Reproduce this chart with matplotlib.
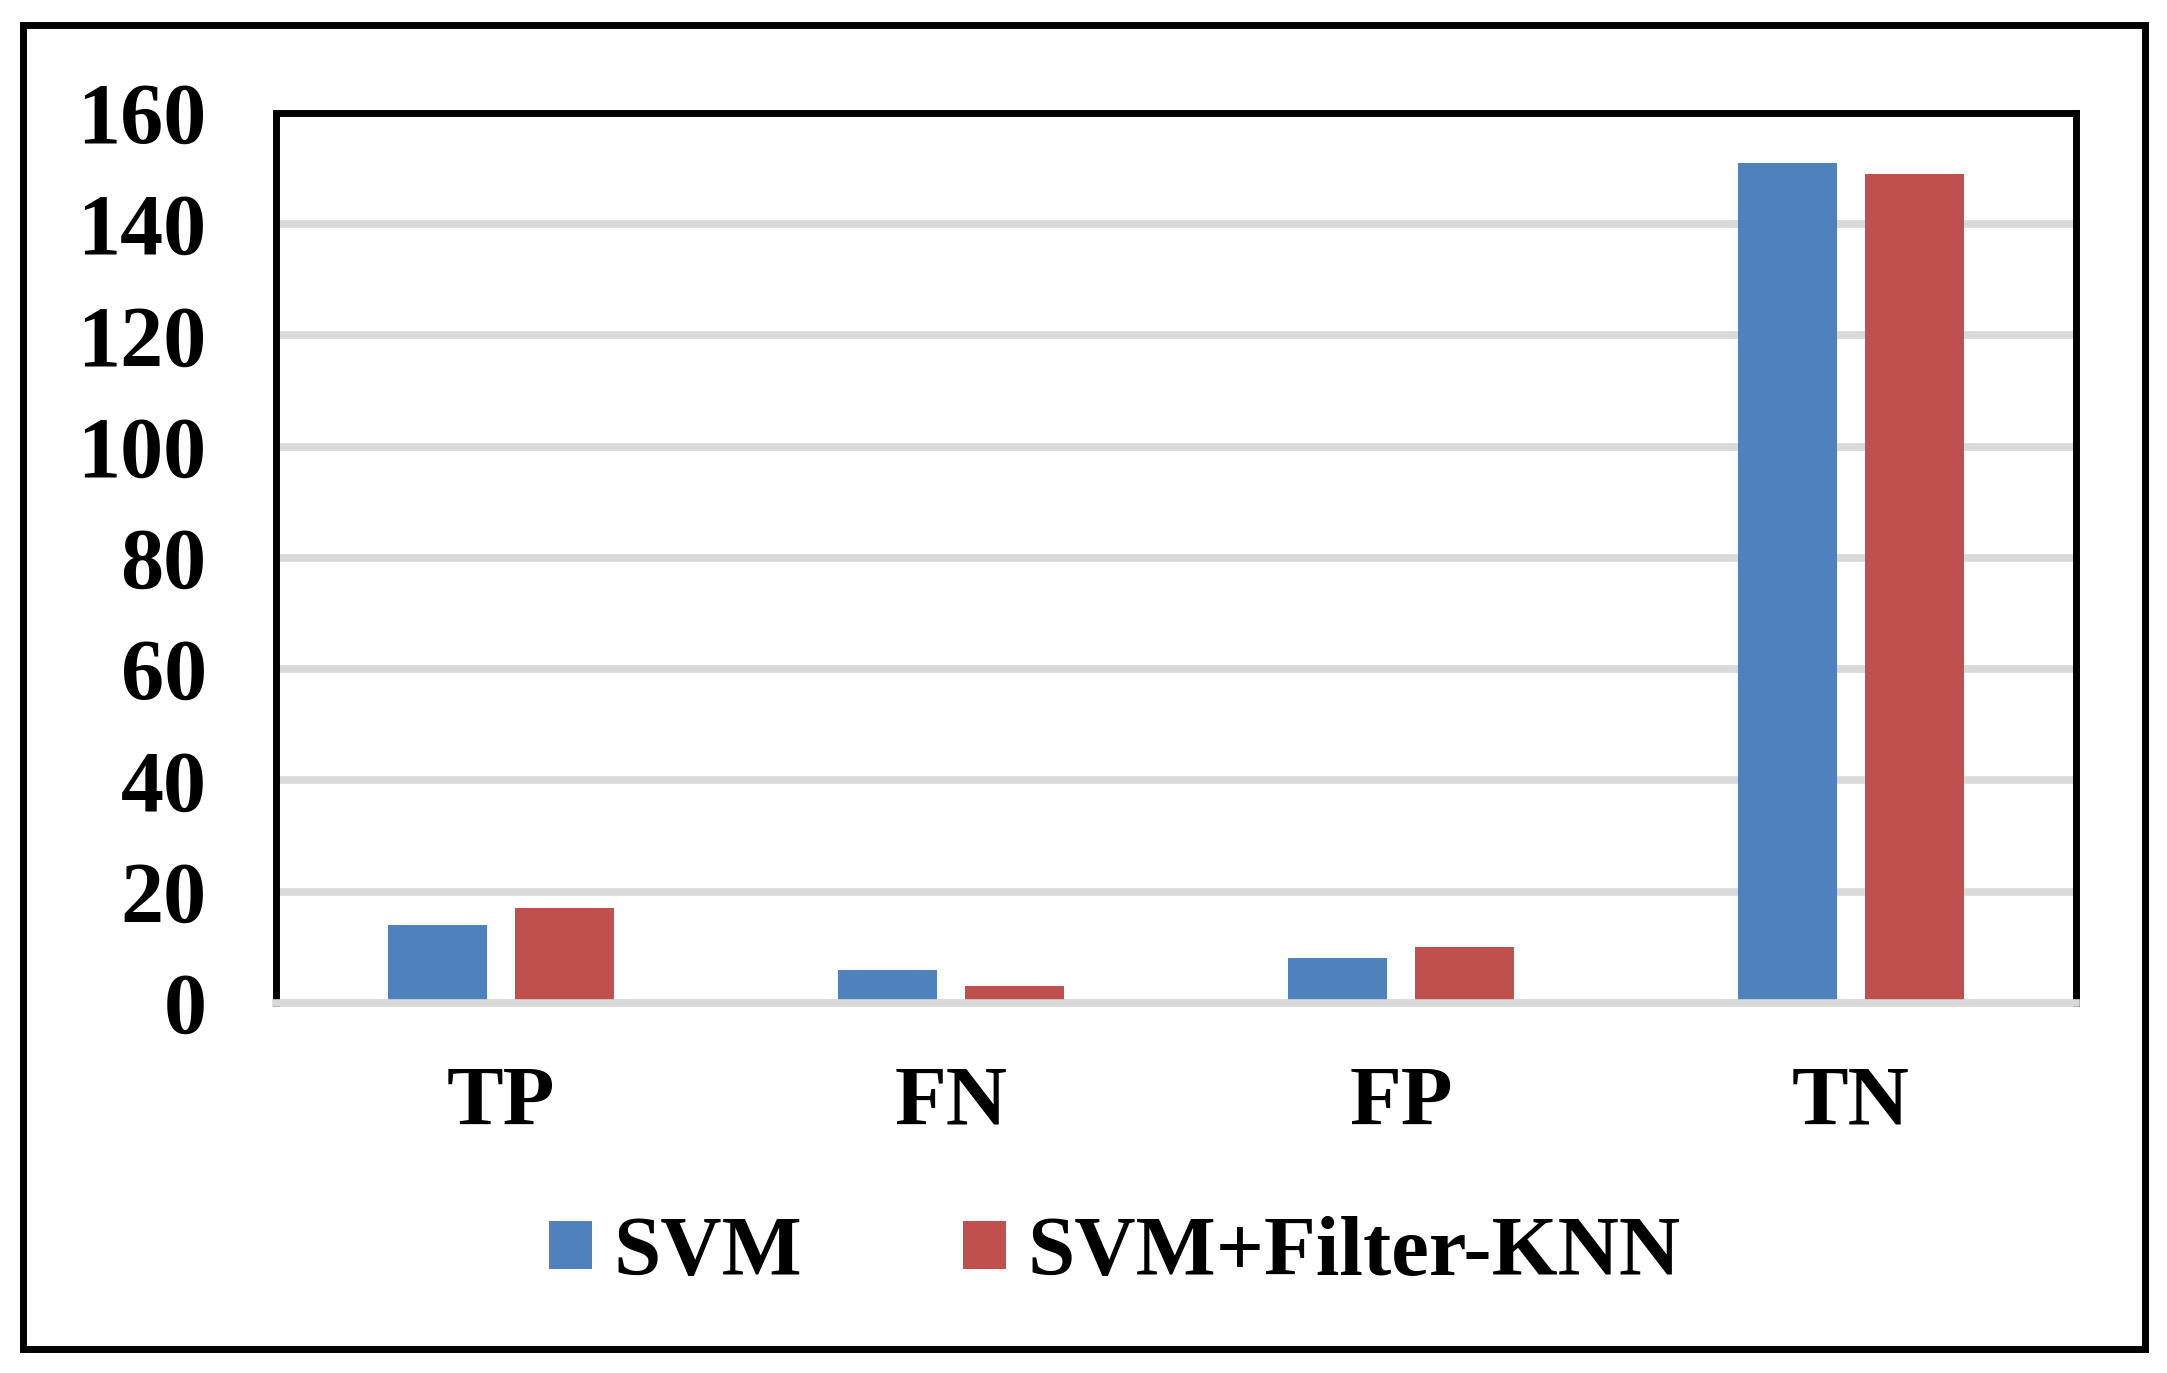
import numpy as np
import matplotlib.pyplot as plt
from matplotlib.patches import Rectangle

plt.rcParams['font.family'] = 'Liberation Serif'
plt.rcParams['font.weight'] = 'bold'

categories = ['TP', 'FN', 'FP', 'TN']
svm = [14, 6, 8, 151]
svm_knn = [17, 3, 10, 149]
series_names = ['SVM', 'SVM+Filter-KNN']
yticks = [0, 20, 40, 60, 80, 100, 120, 140, 160]

blue = '#4F81BD'
red = '#C0504D'
grey = '#d9d9d9'

fig = plt.figure(figsize=(21.67, 13.73), dpi=100)
ax = fig.add_axes([0.1274, 0.2695, 0.8306, 0.6482])

x = np.arange(len(categories))
w = 0.22
off = 0.141
ax.bar(x - off, svm, w, color=blue, label=series_names[0])
ax.bar(x + off, svm_knn, w, color=red, label=series_names[1])

ax.set_xlim(-0.5, 3.5)
ax.set_ylim(0, 160)
ax.set_yticks(yticks)
ax.set_xticks(x)
ax.set_xticklabels(categories)
ax.tick_params(axis='y', length=0, pad=50, labelsize=62)
ax.tick_params(axis='x', length=0, pad=45, labelsize=61)

ax.set_axisbelow(True)
ax.yaxis.grid(True, color=grey, linewidth=5.5)
for s in ['left', 'top', 'right']:
    ax.spines[s].set_color('black')
    ax.spines[s].set_linewidth(5)
ax.spines['bottom'].set_color(grey)
ax.spines['bottom'].set_linewidth(5.5)

fig.legend(loc='center', bbox_to_anchor=(0.5146, 0.086), ncol=2, frameon=False,
           fontsize=61, handlelength=0.5, handleheight=0.5, handletextpad=0.26,
           columnspacing=1.9)

# outer border
fig.patches.append(Rectangle((0.0106, 0.0175), 0.9792, 0.9643, transform=fig.transFigure,
                             fill=False, edgecolor='black', linewidth=5))

fig.savefig('out.png', dpi=100)
